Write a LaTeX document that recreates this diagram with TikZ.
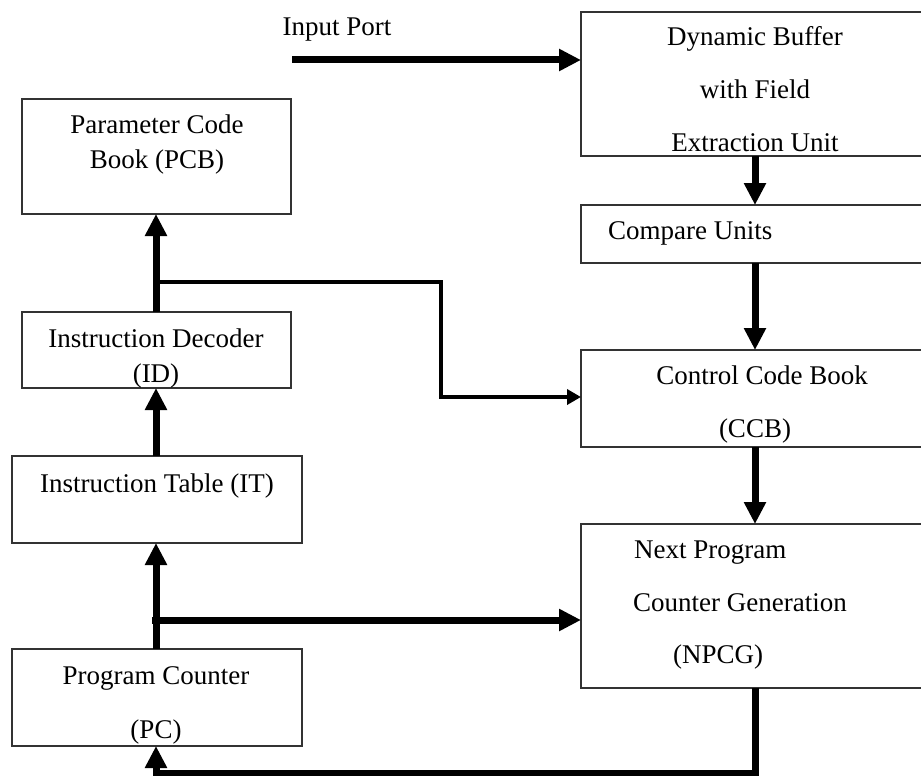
\documentclass[tikz,border=0pt]{standalone}
\usepackage{fontspec}
\setmainfont{Liberation Serif}
\usetikzlibrary{arrows.meta}

\begin{document}
\begin{tikzpicture}[x=1pt,y=-1pt,
  box/.style={draw=black!80, line width=1.2pt, rectangle, inner sep=0pt, outer sep=0pt},
  lbl/.style={anchor=base, inner sep=0pt, font=\fontsize{27}{30}\selectfont},
  lbll/.style={lbl, anchor=base west},
  flow/.style={line width=7pt, -{Triangle[length=22pt,width=21pt]}},
  link/.style={line width=4.5pt, -{Triangle[length=14pt,width=15pt]}}]

% canvas (right-hand boxes run past the edge)
\clip (0,0) rectangle (921,776);
\fill[white] (0,0) rectangle (921,776);

% left column boxes
\node[box, minimum width=269pt, minimum height=115pt] (PCB) at (156.5,156.5) {};
\node[box, minimum width=269pt, minimum height=76pt]  (ID)  at (156.5,350) {};
\node[box, minimum width=290pt, minimum height=87pt]  (IT)  at (157,499.5) {};
\node[box, minimum width=290pt, minimum height=97pt]  (PC)  at (157,697.5) {};

% right column boxes
\node[box, minimum width=359pt, minimum height=144pt] (DB)   at (760.5,84) {};
\node[box, minimum width=359pt, minimum height=58pt]  (CU)   at (760.5,234) {};
\node[box, minimum width=359pt, minimum height=97pt]  (CCB)  at (760.5,398.5) {};
\node[box, minimum width=359pt, minimum height=164pt] (NPCG) at (760.5,606) {};

% labels
\node[lbl] (tin)   at (337,36)  {Input Port};
\node[lbl] (tpcb1) at (157,133) {Parameter Code};
\node[lbl] (tpcb2) at (157,168) {Book (PCB)};
\node[lbl] (tid1)  at (156,347) {Instruction Decoder};
\node[lbl] (tid2)  at (156,382) {(ID)};
\node[lbl] (tit)   at (157,492) {Instruction Table (IT)};
\node[lbl] (tpc1)  at (156,684) {Program Counter};
\node[lbl] (tpc2)  at (156,738) {(PC)};
\node[lbl] (tdb1)  at (755,46)  {Dynamic Buffer};
\node[lbl] (tdb2)  at (755,98)  {with Field};
\node[lbl] (tdb3)  at (755,151) {Extraction Unit};
\node[lbll] (tcu)  at (608,239) {Compare Units};
\node[lbl] (tccb1) at (762,384) {Control Code Book};
\node[lbl] (tccb2) at (755,437) {(CCB)};
\node[lbll] (tnp1) at (634,558) {Next Program};
\node[lbll] (tnp2) at (633,611) {Counter Generation};
\node[lbll] (tnp3) at (673,663) {(NPCG)};

% routing coordinates
\coordinate (lc) at (156,0);
\coordinate (rc) at (755,0);
\coordinate (inp) at (292,60);
\coordinate (idtap) at (160,282);
\coordinate (jog) at (441,0);
\coordinate (pctap) at (152,620);
\coordinate (fb) at (0,773);

% connectors
\draw[flow] (inp) -- (inp -| DB.west);
\draw[flow] (DB.south -| rc) -- (CU.north -| rc);
\draw[flow] (CU.south -| rc) -- (CCB.north -| rc);
\draw[flow] (CCB.south -| rc) -- (NPCG.north -| rc);
\draw[flow] (ID.north -| lc) -- (PCB.south -| lc);
\draw[flow] (IT.north -| lc) -- (ID.south -| lc);
\draw[flow] (PC.north -| lc) -- (IT.south -| lc);
\draw[flow] (pctap) -- (pctap -| NPCG.west);
\draw[flow, line join=miter] (NPCG.south -| rc) -- (rc |- fb) -- (lc |- fb) -- (PC.south -| lc);
\draw[link, line join=miter] (idtap) -- (idtap -| jog) -- (jog |- 0,397) -- (CCB.west |- 0,397);
\end{tikzpicture}
\end{document}
